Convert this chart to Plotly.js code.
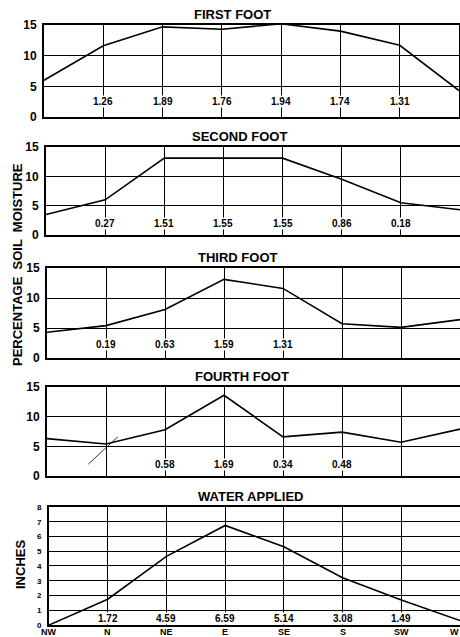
<!DOCTYPE html>
<html><head><meta charset="utf-8">
<script src="https://cdn.plot.ly/plotly-3.0.1.min.js"></script>
<style>html,body{margin:0;padding:0;background:#fff}#c{width:460px;height:637px}</style>
</head><body><div id="c"></div>
<script>
const cats = ['NW','N','NE','E','SE','S','SW','W'];
const firstFoot  = [6.0, 11.6, 14.7, 14.3, 15.2, 14.0, 11.7, 4.3];
const secondFoot = [3.5, 6.0, 13.1, 13.1, 13.1, 9.5, 5.5, 4.3];
const thirdFoot  = [4.3, 5.4, 8.1, 13.1, 11.6, 5.7, 5.1, 6.4];
const fourthFoot = [6.3, 5.4, 7.8, 13.6, 6.6, 7.4, 5.7, 7.9];
const waterApplied = [0, 1.75, 4.65, 6.75, 5.3, 3.2, 1.7, 0.3];

const firstLabels  = ['', '1.26', '1.89', '1.76', '1.94', '1.74', '1.31', ''];
const secondLabels = ['', '0.27', '1.51', '1.55', '1.55', '0.86', '0.18', ''];
const thirdLabels  = ['', '0.19', '0.63', '1.59', '1.31', '', '', ''];
const fourthLabels = ['', '', '0.58', '1.69', '0.34', '0.48', '', ''];
const waterLabels  = ['', '1.72', '4.59', '6.59', '5.14', '3.08', '1.49', ''];

// stray pen stroke in the fourth-foot panel (category index, percent)
const strayX = [0.7, 1.2];
const strayY = [2.0, 6.6];

const titles = ['FIRST FOOT', 'SECOND FOOT', 'THIRD FOOT', 'FOURTH FOOT', 'WATER APPLIED'];
const series = [firstFoot, secondFoot, thirdFoot, fourthFoot, waterApplied];
const labels = [firstLabels, secondLabels, thirdLabels, fourthLabels, waterLabels];

const W = 460;
const idx = cats.map((_, i) => i);
const yDomains = [[0.8467, 1.0], [0.65, 0.7967], [0.445, 0.595], [0.2483, 0.3967], [0, 0.1967]];
const xLeftPx = [44, 46, 47, 47, 49];
const xRightPx = [459, 460, 460, 460, 460];
const titleCx = [233, 239, 237, 242, 250];
const labelY = [2.45, 2.0, 2.2, 2.0, 0.47];
const F = 'Liberation Sans, Arial, sans-serif';

const data = [];
const layout = {
  width: 460, height: 637,
  margin: {l: 0, r: 0, t: 25, b: 12},
  paper_bgcolor: '#fff', plot_bgcolor: '#fff',
  showlegend: false,
  annotations: []
};

series.forEach((s, i) => {
  const n = i + 1;
  const sfx = n === 1 ? '' : String(n);
  const xa = 'x' + sfx, ya = 'y' + sfx;
  data.push({x: idx, y: s, type: 'scatter', mode: 'lines', xaxis: xa, yaxis: ya,
    line: {color: '#000', width: 1.6}, hoverinfo: 'skip'});
  const isWater = i === 4;
  layout['xaxis' + sfx] = {
    domain: [xLeftPx[i] / W, xRightPx[i] / W],
    range: [0, 7], anchor: ya,
    tickmode: 'array', tickvals: idx, ticktext: cats,
    showgrid: true, gridcolor: '#000', gridwidth: 1,
    showline: true, linecolor: '#000', linewidth: 2, mirror: true, zeroline: false,
    showticklabels: false, ticks: ''
  };
  layout['yaxis' + sfx] = {
    domain: yDomains[i], anchor: xa,
    range: isWater ? [0, 8] : [0, 15], dtick: isWater ? 1 : 5,
    showgrid: true, gridcolor: '#000', gridwidth: 1,
    showline: true, linecolor: '#000', linewidth: 2, mirror: true, zeroline: false,
    ticks: '', ticklabelstandoff: isWater ? 4 : 3,
    tickfont: {family: F, size: isWater ? 8 : 12, color: '#000', weight: 'bold'}
  };
  layout.annotations.push({
    xref: 'paper', yref: 'paper', x: titleCx[i] / W, y: yDomains[i][1],
    xanchor: 'center', yanchor: 'bottom',
    yshift: 1, showarrow: false, text: titles[i],
    font: {family: F, size: 13, color: '#000', weight: 'bold'}
  });
  labels[i].forEach((t, j) => {
    if (!t) return;
    layout.annotations.push({
      xref: xa, yref: ya, x: idx[j], y: labelY[i], showarrow: false, text: t,
      xanchor: 'center', yanchor: 'middle',
      bgcolor: '#fff', borderpad: 0,
      font: {family: F, size: 10, color: '#000', weight: 'bold'}
    });
  });
});

// direction labels under the bottom panel
cats.forEach((c, j) => {
  layout.annotations.push({
    xref: 'x5', yref: 'paper', x: idx[j], y: 0, yshift: -1,
    xanchor: j === cats.length - 1 ? 'right' : 'center', yanchor: 'top',
    showarrow: false, text: c, borderpad: 0,
    font: {family: F, size: 9, color: '#000', weight: 'bold'}
  });
});

data.push({x: strayX, y: strayY, type: 'scatter', mode: 'lines', xaxis: 'x4', yaxis: 'y4',
  line: {color: '#000', width: 0.8}, hoverinfo: 'skip'});

layout.annotations.push({
  xref: 'paper', yref: 'paper', x: 17 / W, y: 0.6, xanchor: 'center', yanchor: 'middle',
  textangle: -90, showarrow: false,
  text: 'PERCENTAGE  SOIL  MOISTURE',
  font: {family: F, size: 13, color: '#000', weight: 'bold'}
});
layout.annotations.push({
  xref: 'paper', yref: 'paper', x: 20 / W, y: 0.1, xanchor: 'center', yanchor: 'middle',
  textangle: -90, showarrow: false,
  text: 'INCHES',
  font: {family: F, size: 13, color: '#000', weight: 'bold'}
});

Plotly.newPlot('c', data, layout, {staticPlot: true});
</script></body></html>
